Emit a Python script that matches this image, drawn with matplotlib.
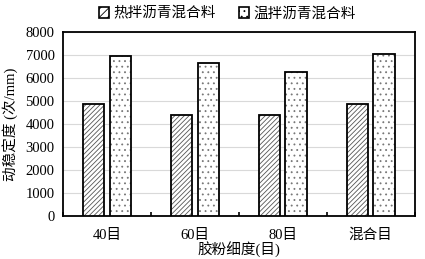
import numpy as np
import matplotlib
matplotlib.use("Agg")
import matplotlib.pyplot as plt
from matplotlib.patches import Patch

plt.rcParams['font.family'] = ['Liberation Serif', 'Noto Sans CJK SC']
plt.rcParams['hatch.linewidth'] = 0.6

# data
categories = ['40目', '60目', '80目', '混合目']
hot_mix = [4880, 4400, 4400, 4880]
warm_mix = [6980, 6660, 6270, 7060]
series_names = ['热拌沥青混合料', '温拌沥青混合料']

fig = plt.figure(figsize=(4.25, 2.59), dpi=100)
ax = fig.add_axes([0.148, 0.166, 0.828, 0.71])

x = np.arange(len(categories))
w = 0.24
gap = 0.06
# hatch layer (grey) then black outline on top
ax.bar(x - (w + gap) / 2, hot_mix, w, color='white', edgecolor='#555555',
       linewidth=0, hatch='///////', zorder=3)
ax.bar(x + (w + gap) / 2, warm_mix, w, color='white', edgecolor='#777777',
       linewidth=0, hatch='...', zorder=3)
ax.bar(x - (w + gap) / 2, hot_mix, w, fill=False, edgecolor='black',
       linewidth=1.3, zorder=4)
ax.bar(x + (w + gap) / 2, warm_mix, w, fill=False, edgecolor='black',
       linewidth=1.3, zorder=4)

ax.set_xlim(-0.5, len(categories) - 0.5)
ax.set_ylim(0, 8000)
ax.set_yticks(range(0, 8001, 1000))
ax.yaxis.grid(True, color='#d9d9d9', linewidth=0.8, zorder=0)
ax.set_xticks(x)
ax.set_xticklabels(categories, fontsize=10.5)
ax.tick_params(axis='y', length=0, labelsize=10.5, pad=6)
ax.tick_params(axis='x', length=0, labelsize=10.5, pad=9)
# inward boundary ticks between categories
ax.set_xticks(np.arange(len(categories) + 1) - 0.5, minor=True)
ax.tick_params(axis='x', which='minor', direction='in', length=3, width=1.2)
for s in ax.spines.values():
    s.set_linewidth(1.3)

ax.set_xlabel('胶粉细度(目)', fontsize=10.5, labelpad=-1)
ax.set_ylabel('动稳定度 (次/mm)', fontsize=10.5, labelpad=5)

handles = [Patch(facecolor='white', edgecolor='black', hatch='////', linewidth=1.2),
           Patch(facecolor='white', edgecolor='black', hatch='...', linewidth=1.2)]
fig.legend(handles, series_names, loc='upper center', bbox_to_anchor=(0.535, 1.025),
           ncol=2, frameon=False, fontsize=10.5, handlelength=0.7, handleheight=0.7,
           columnspacing=1.6, handletextpad=0.3)

fig.savefig('out.png', dpi=100)
